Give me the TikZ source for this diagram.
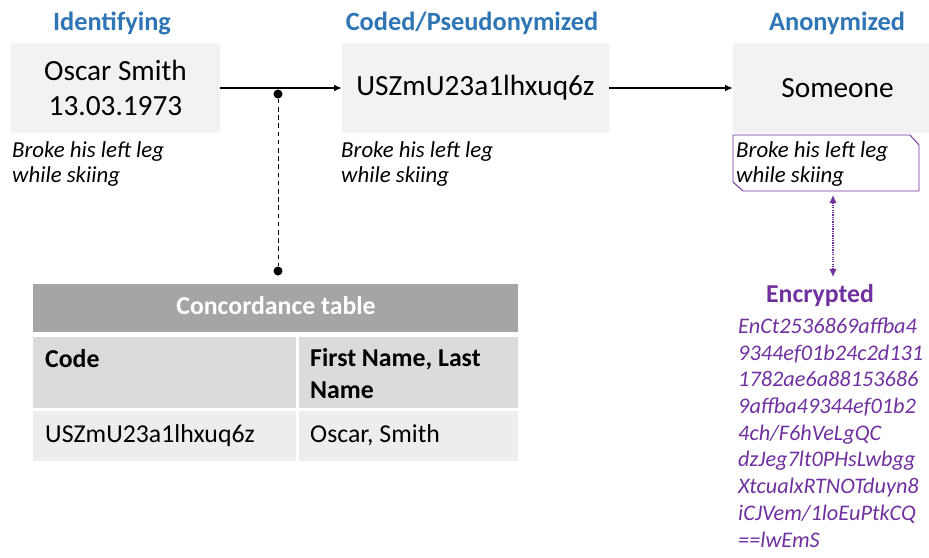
\documentclass[tikz,border=0pt]{standalone}
\usepackage{fontspec}
\setmainfont{Carlito}
\usepackage{tikz}
\usetikzlibrary{arrows.meta,calc}

\definecolor{headblue}{RGB}{46,117,182}
\definecolor{encpurple}{RGB}{112,48,160}
\definecolor{boxgray}{RGB}{242,242,242}
\definecolor{tabhead}{RGB}{165,165,165}
\definecolor{tabrowA}{RGB}{219,219,219}
\definecolor{tabrowB}{RGB}{237,237,237}

\tikzset{
  stagehead/.style={font=\fontsize{22.5}{26}\selectfont\bfseries, text=headblue, anchor=base},
  stagebox/.style={fill=boxgray, rounded corners=2pt, minimum width=6.27cm, minimum height=2.7cm,
    align=center, font=\fontsize{25}{29.5}\selectfont},
  notetext/.style={font=\fontsize{19.5}{21.3}\selectfont\itshape, align=left, anchor=base west, inner sep=0pt},
  joint/.style={circle, fill=black, inner sep=0pt, minimum size=0.27cm},
  celltext/.style={font=\fontsize{22}{26.5}\selectfont, align=left, anchor=base west, inner sep=0pt},
  flowarrow/.style={line width=1pt, -{Latex[length=6.5pt,width=5.5pt]}},
}

\begin{document}
\begin{tikzpicture}[x=0.03cm, y=-0.03cm]
\clip (0,0) rectangle (929,557);

% the three stages
\node[stagehead] (identHead) at (112,30) {Identifying};
\node[stagehead] (codedHead) at (472,30) {Coded/Pseudonymized};
\node[stagehead] (anonHead) at (837,30) {Anonymized};

\node[stagebox] (ident) at (115.5,88) {Oscar Smith\\13.03.1973};
\node[stagebox, minimum width=8.01cm] (coded) at (475.5,88) {USZmU23a1lhxuq6z};
\node[stagebox] (anon) at (837.5,88) {Someone};

% base = last line
\node[notetext] (identNote) at (12,182) {Broke his left leg\\while skiing};
\node[notetext] (codedNote) at (341,182) {Broke his left leg\\while skiing};
\node[notetext] (anonNote) at (736,182) {Broke his left leg\\while skiing};
\draw[encpurple, line width=0.8pt] (733,135) -- (910,135) -- (919,145) -- (919,191)
  -- (743,191) -- (733,182) -- cycle;

% arrows
\draw[flowarrow] (ident) -- (coded);
\draw[flowarrow] (coded) -- (anon);

\node[joint] (splitTop) at (278,94) {};
\node[joint] (splitBot) at (278,271) {};
\draw[line width=0.8pt, dash pattern=on 4pt off 3pt] (splitTop) -- (splitBot);

% encryption
\coordinate (noteLink) at (833,195);
\coordinate (encLink) at (833,277);
\draw[encpurple, line width=1pt, densely dotted, {Latex[length=7pt,width=6.5pt]}-{Latex[length=7pt,width=6.5pt]}] (noteLink) -- (encLink);

\node[font=\fontsize{22}{26}\selectfont\bfseries, text=encpurple, anchor=base] (encHead) at (820,302) {Encrypted};
\node[font=\fontsize{19}{22.8}\selectfont\itshape, text=encpurple, align=left, anchor=base west, inner sep=0pt]
  (encText) at (738,547) {EnCt2536869affba4\\9344ef01b24c2d131\\1782ae6a88153686\\9affba49344ef01b2\\4ch/F6hVeLgQC\\dzJeg7lt0PHsLwbgg\\XtcualxRTNOTduyn8\\iCJVem/1loEuPtkCQ\\==lwEmS};

% concordance table
\fill[tabhead] (33,284) rectangle (518,332);
\fill[tabrowA] (33,337) rectangle (296,408);
\fill[tabrowA] (299,337) rectangle (518,408);
\fill[tabrowB] (33,411) rectangle (296,461);
\fill[tabrowB] (299,411) rectangle (518,461);

\node[celltext, font=\fontsize{22}{26.5}\selectfont\bfseries, text=white, anchor=base] (tabTitle) at (276,314) {Concordance table};
\node[celltext, font=\fontsize{22}{26.5}\selectfont\bfseries] (colCode) at (45,367) {Code};
\node[celltext, font=\fontsize{22}{26.5}\selectfont\bfseries] (colName) at (310,398) {First Name, Last\\Name};
\node[celltext] (cellCode) at (45,442) {USZmU23a1lhxuq6z};
\node[celltext] (cellName) at (310,442) {Oscar, Smith};
\end{tikzpicture}
\end{document}
